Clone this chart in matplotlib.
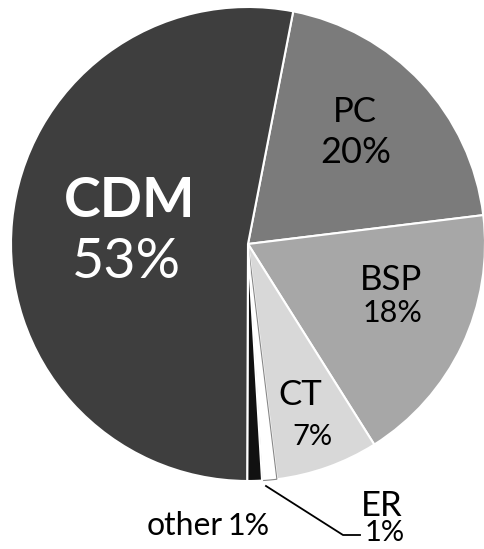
import matplotlib.pyplot as plt

plt.rcParams['font.family'] = ['Lato', 'DejaVu Sans']

# slices, clockwise from the top
labels = ['PC', 'BSP', 'CT', 'ER', 'other', 'CDM']
shares = [20, 18, 7, 1, 1, 53]
colors = ['#7b7b7b', '#a7a7a7', '#d8d8d8', '#ffffff', '#111111', '#3e3e3e']

W, H = 485, 549
fig = plt.figure(figsize=(W / 100, H / 100), dpi=100)
ax = fig.add_axes([0, 0, 1, 1])

cx, cy, r = 248, H - 244, 237
wedges, _ = ax.pie(shares, colors=colors, startangle=79, counterclock=False,
                   center=(cx, cy), radius=r, frame=True,
                   wedgeprops=dict(edgecolor='white', linewidth=1.5))
wedges[3].set_edgecolor('#888888')
wedges[3].set_linewidth(0.8)
ax.set_xlim(0, W)
ax.set_ylim(0, H)
ax.axis('off')

# text placed by baseline, in pixel coords from the top
def label(x, y, s, size, color='black', weight='normal', ha='center'):
    ax.text(x, H - y, s, fontsize=size, color=color, weight=weight,
            ha=ha, va='baseline')

label(130, 217, 'CDM', 40, 'white', 'bold')
label(126, 278, '53%', 40, 'white')
label(355, 122, 'PC', 25)
label(356, 163, '20%', 26)
label(391, 290, 'BSP', 25)
label(393, 322, '18%', 22)
label(300, 405, 'CT', 25)
label(312, 445, '7%', 21)
label(382, 516, 'ER', 25)
label(385, 541, '1%', 21)
label(223, 535, 'other', 23, ha='right')
label(228, 535, '1%', 22, ha='left')

# leader line for ER
ax.plot([266, 343, 360], [H - 486, H - 535, H - 535], color='black', lw=1.3)

fig.savefig('out.png', dpi=100)
